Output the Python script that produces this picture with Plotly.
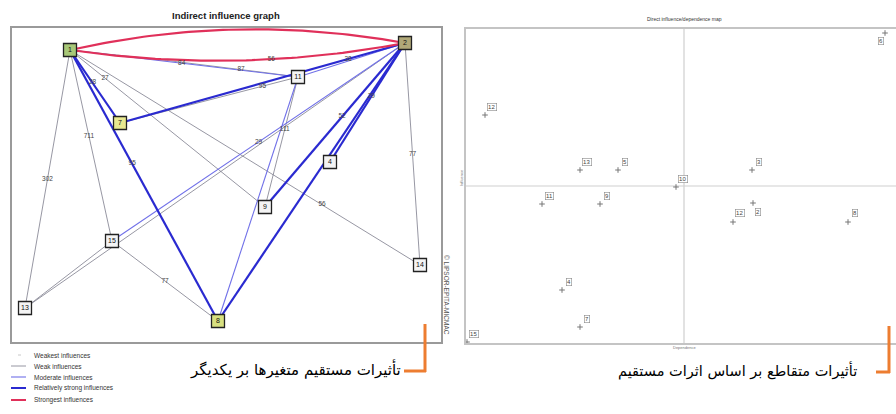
import numpy as np
import plotly.graph_objects as go

W, H = 896, 414

# ---------------- data : indirect influence graph ----------------
node_labels = ["1", "2", "11", "7", "4", "9", "15", "14", "13", "8"]
node_x = [58, 393, 286, 108, 318, 253, 100, 408, 13, 206]
node_y = [292, 299, 265, 219, 180, 135, 101, 77, 34, 21]

# edges: source index, target index, strength level (1..5), value shown
edge_src = [0, 0, 0, 0, 3, 0, 0, 0, 0, 0, 0, 3, 2, 2, 1, 1, 1, 1, 6, 8, 6, 6, 2]
edge_dst = [1, 1, 2, 2, 1, 3, 5, 6, 8, 9, 7, 2, 5, 1, 4, 5, 9, 7, 1, 1, 9, 8, 9]
edge_level = [5, 5, 3, 2, 4, 4, 2, 2, 2, 4, 2, 2, 2, 3, 4, 4, 4, 2, 3, 2, 2, 2, 3]
edge_value = ["", "56", "84", "87", "38", "28", "27", "711", "302", "95", "56", "95",
              "111", "", "29", "52", "", "77", "29", "", "77", "", ""]

# ---------------- data : direct influence / dependence map ----------------
map_labels = ["6", "12", "13", "5", "10", "3", "11", "9", "12", "2", "8", "4", "7", "15"]
map_dependence = [838, 38, 228, 304, 420, 572, 152, 268, 534, 574, 764, 192, 228, 2]
map_influence = [620, 456, 346, 346, 312, 346, 278, 278, 242, 280, 242, 106, 32, 2]
dep_mean = 436
inf_mean = 314

legend_names = ["Weakest influences", "Weak influences", "Moderate influences",
                "Relatively strong influences", "Strongest influences"]

# ---------------- styles ----------------
edge_bend = [17, -14, 0, 1, 0, 0, 0, 0, 0, 0, 0, 0, 0, 0, 0, 0, 0, 0, 0, 0, 0, 0, 0]
edge_t = [0.5, 0.6, 0.49, 0.75, 0.8, 0.45, 0.18, 0.45, 0.5, 0.42, 0.72, 0.8,
          0.4, 0.5, 0.45, 0.45, 0.5, 0.5, 0.5, 0.5, 0.5, 0.5, 0.5]
level_color = {1: "#b8b8b8", 2: "#7c7c8c", 3: "#7070e8", 4: "#2a2ad0", 5: "#e0305a"}
level_width = {1: 0.6, 2: 0.8, 3: 1.1, 4: 2.2, 5: 2.2}
node_fill = ["#a8c878", "#b0a878", "#f4f4f4", "#e8e890", "#f4f4f4", "#f4f4f4",
             "#f4f4f4", "#f4f4f4", "#f4f4f4", "#d8e080"]
map_label_dx = [-4, 7, 7, 7, 7, 7, 7, 7, 7, 5, 7, 7, 7, 7]
map_label_dy = [-8, 8, 8, 8, 8, 8, 8, 8, 9, -9, 9, 8, 8, 8]

LX0, LX1, LY0, LY1 = 12, 441, 28, 342      # left panel box (px)
RX0, RX1, RY0, RY1 = 466, 896, 29, 343     # right panel box (px)


def pxx(x):
    return x / W


def pxy(y):
    return 1 - y / H


def note(x, y, text, size, color="#222", family="Liberation Sans", xanchor="center", angle=0):
    return dict(x=pxx(x), y=pxy(y), xref="paper", yref="paper", text=text, showarrow=False,
                xanchor=xanchor, yanchor="middle", textangle=angle,
                font=dict(size=size, color=color, family=family))


fig = go.Figure()

# edges (weak first so strong ones end on top)
lab_x, lab_y, lab_t = [], [], []
order = sorted(range(len(edge_src)), key=lambda i: edge_level[i])
for i in order:
    s, d = edge_src[i], edge_dst[i]
    x0, y0, x1, y1 = node_x[s], node_y[s], node_x[d], node_y[d]
    dx, dy = x1 - x0, y1 - y0
    L = np.hypot(dx, dy)
    nx, ny = -dy / L, dx / L
    cx = (x0 + x1) / 2 + nx * edge_bend[i] * 2
    cy = (y0 + y1) / 2 + ny * edge_bend[i] * 2
    tt = np.linspace(0, 1, 60)
    xs = (1 - tt) ** 2 * x0 + 2 * (1 - tt) * tt * cx + tt ** 2 * x1
    ys = (1 - tt) ** 2 * y0 + 2 * (1 - tt) * tt * cy + tt ** 2 * y1
    fig.add_trace(go.Scatter(x=xs, y=ys, mode="lines", hoverinfo="skip",
                             line=dict(color=level_color[edge_level[i]],
                                       width=level_width[edge_level[i]]),
                             showlegend=False, xaxis="x", yaxis="y"))
    if edge_value[i]:
        t = edge_t[i]
        lab_x.append((1 - t) ** 2 * x0 + 2 * (1 - t) * t * cx + t ** 2 * x1)
        lab_y.append((1 - t) ** 2 * y0 + 2 * (1 - t) * t * cy + t ** 2 * y1)
        lab_t.append(edge_value[i])

fig.add_trace(go.Scatter(x=lab_x, y=lab_y, text=lab_t, mode="text",
                         textfont=dict(size=6.5, color="#444", family="Liberation Sans"),
                         hoverinfo="skip", showlegend=False, xaxis="x", yaxis="y"))

fig.add_trace(go.Scatter(x=node_x, y=node_y, text=node_labels, mode="markers+text",
                         textposition="middle center",
                         textfont=dict(size=7, color="#111", family="Liberation Sans"),
                         marker=dict(symbol="square", size=13, color=node_fill,
                                     line=dict(color="#222", width=1.3)),
                         hoverinfo="skip", showlegend=False, xaxis="x", yaxis="y"))

# ---------------- right panel ----------------
fig.add_trace(go.Scatter(x=map_dependence, y=map_influence, mode="markers",
                         marker=dict(symbol="cross-thin", size=4,
                                     line=dict(color="#777", width=1)),
                         hoverinfo="skip", showlegend=False, xaxis="x2", yaxis="y2"))

annotations = []
for lab, xv, yv, sx, sy in zip(map_labels, map_dependence, map_influence,
                               map_label_dx, map_label_dy):
    annotations.append(dict(x=xv, y=yv, xref="x2", yref="y2", text=lab, showarrow=False,
                            xshift=sx, yshift=sy, xanchor="center", yanchor="middle",
                            font=dict(size=6, color="#444", family="Liberation Sans"),
                            bordercolor="#888", borderwidth=0.6, borderpad=0.5,
                            bgcolor="white"))

shapes = [
    dict(type="line", xref="x2", yref="y2 domain", x0=dep_mean, x1=dep_mean, y0=0, y1=1,
         line=dict(color="#cfcfcf", width=1.2), layer="below"),
    dict(type="line", xref="x2 domain", yref="y2", x0=0, x1=1, y0=inf_mean, y1=inf_mean,
         line=dict(color="#cfcfcf", width=1.2), layer="below"),
]

# titles and small texts
annotations += [
    note(226, 15, "<b>Indirect influence graph</b>", 9.5),
    note(684, 19, "Direct influence/dependence map", 5, "#333"),
    note(461, 178, "Influence", 4, "#777", angle=-90),
    note(684, 347, "Dependence", 4, "#777"),
    note(447, 295, "© LIPSOR-EPITA-MICMAC", 6.5, "#555", angle=90),
]

# captions (Persian)
annotations += [
    note(403, 369, "تأثیرات مستقیم متغیرها بر یکدیگر", 15, "#000", "DejaVu Sans", "right"),
    note(859, 370, "تأثیرات متقاطع بر اساس اثرات مستقیم", 14.5, "#000", "DejaVu Sans", "right"),
]
orange = "#ED7D31"
shapes += [
    dict(type="line", xref="paper", yref="paper", x0=pxx(425), x1=pxx(425), y0=pxy(324), y1=pxy(372),
         line=dict(color=orange, width=3)),
    dict(type="line", xref="paper", yref="paper", x0=pxx(404), x1=pxx(426), y0=pxy(371), y1=pxy(371),
         line=dict(color=orange, width=3)),
    dict(type="line", xref="paper", yref="paper", x0=pxx(889), x1=pxx(889), y0=pxy(326), y1=pxy(373),
         line=dict(color=orange, width=3)),
    dict(type="line", xref="paper", yref="paper", x0=pxx(876), x1=pxx(890), y0=pxy(372), y1=pxy(372),
         line=dict(color=orange, width=3)),
]

# custom compact legend
leg_rows = [355, 366, 377, 388, 400]
for lvl, (name, ry) in enumerate(zip(legend_names, leg_rows), start=1):
    if lvl == 1:
        shapes.append(dict(type="line", xref="paper", yref="paper", x0=pxx(18), x1=pxx(21),
                           y0=pxy(ry), y1=pxy(ry), line=dict(color="#c8c8c8", width=1)))
    else:
        shapes.append(dict(type="line", xref="paper", yref="paper", x0=pxx(11), x1=pxx(26),
                           y0=pxy(ry), y1=pxy(ry),
                           line=dict(color=level_color[lvl], width=min(level_width[lvl], 2))))
    annotations.append(note(32, ry, name, 6.5, "#333", xanchor="left"))

fig.update_layout(
    width=W, height=H, margin=dict(l=0, r=0, t=0, b=0),
    paper_bgcolor="white", plot_bgcolor="white",
    xaxis=dict(domain=[pxx(LX0), pxx(LX1)], range=[0, LX1 - LX0], showgrid=False,
               zeroline=False, showticklabels=False, ticks="", showline=True, mirror=True,
               linecolor="#9a9a9a", linewidth=2, fixedrange=True),
    yaxis=dict(domain=[pxy(LY1), pxy(LY0)], range=[0, LY1 - LY0], showgrid=False,
               zeroline=False, showticklabels=False, ticks="", showline=True, mirror=True,
               linecolor="#9a9a9a", linewidth=2, fixedrange=True),
    xaxis2=dict(domain=[pxx(RX0), pxx(RX1)], range=[0, 2 * (RX1 - RX0)], showgrid=False,
                zeroline=False, showticklabels=False, ticks="", showline=True, mirror=True,
                linecolor="#c4c4c4", linewidth=1.5, anchor="y2", fixedrange=True),
    yaxis2=dict(domain=[pxy(RY1), pxy(RY0)], range=[0, 2 * (RY1 - RY0)], showgrid=False,
                zeroline=False, showticklabels=False, ticks="", showline=True, mirror=False,
                linecolor="#c4c4c4", linewidth=1.5, anchor="x2", fixedrange=True),
    annotations=annotations, shapes=shapes, showlegend=False,
)

fig.write_html("out.html", config={"displayModeBar": False},
               post_script="document.body.style.margin='0px';document.body.style.overflow='hidden';")
